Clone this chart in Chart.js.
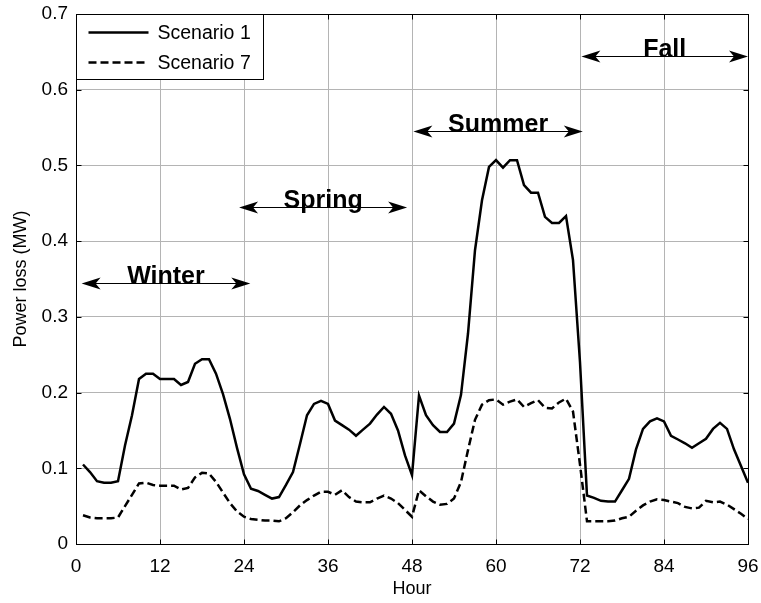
<!DOCTYPE html>
<html>
<head>
<meta charset="utf-8">
<script src="https://cdn.jsdelivr.net/npm/chart.js@4.4.1/dist/chart.umd.min.js"></script>
<style>
  html, body { margin: 0; padding: 0; background: #fff; }
</style>
</head>
<body>
<canvas id="chart" width="761" height="603"></canvas>
<script>
// hourly power loss over four representative days (one per season)
const hours = [
  1, 2, 3, 4, 5, 6, 7, 8, 9, 10, 11, 12, 13, 14, 15, 16, 17, 18, 19, 20, 21, 22, 23, 24,
  25, 26, 27, 28, 29, 30, 31, 32, 33, 34, 35, 36, 37, 38, 39, 40, 41, 42, 43, 44, 45, 46, 47, 48,
  49, 50, 51, 52, 53, 54, 55, 56, 57, 58, 59, 60, 61, 62, 63, 64, 65, 66, 67, 68, 69, 70, 71, 72,
  73, 74, 75, 76, 77, 78, 79, 80, 81, 82, 83, 84, 85, 86, 87, 88, 89, 90, 91, 92, 93, 94, 95, 96
];

const scenario1 = [
  0.105, 0.095, 0.083, 0.081, 0.081, 0.083, 0.130, 0.170, 0.218, 0.225, 0.225, 0.218,
  0.218, 0.218, 0.210, 0.214, 0.238, 0.244, 0.244, 0.225, 0.198, 0.165, 0.127, 0.092,
  0.073, 0.070, 0.065, 0.060, 0.062, 0.078, 0.095, 0.132, 0.170, 0.185, 0.189, 0.185,
  0.163, 0.157, 0.151, 0.143, 0.151, 0.159, 0.171, 0.181, 0.172, 0.150, 0.117, 0.091,
  0.196, 0.170, 0.157, 0.148, 0.148, 0.159, 0.197, 0.278, 0.388, 0.454, 0.498, 0.507,
  0.497, 0.507, 0.507, 0.474, 0.464, 0.464, 0.432, 0.424, 0.424, 0.433, 0.375, 0.240,
  0.064, 0.061, 0.057, 0.056, 0.056, 0.071, 0.086, 0.125, 0.152, 0.162, 0.166, 0.162,
  0.143, 0.138, 0.133, 0.127, 0.133, 0.139, 0.152, 0.160, 0.152, 0.125, 0.103, 0.081
];

const scenario7 = [
  0.038, 0.035, 0.034, 0.034, 0.034, 0.035, 0.050, 0.065, 0.080, 0.081, 0.078, 0.077,
  0.077, 0.077, 0.072, 0.074, 0.088, 0.094, 0.093, 0.082, 0.068, 0.054, 0.043, 0.036,
  0.033, 0.032, 0.031, 0.031, 0.030, 0.034, 0.042, 0.051, 0.058, 0.064, 0.069, 0.069,
  0.065, 0.071, 0.062, 0.056, 0.055, 0.055, 0.060, 0.064, 0.060, 0.054, 0.045, 0.036,
  0.071, 0.063, 0.056, 0.052, 0.053, 0.060, 0.082, 0.124, 0.164, 0.184, 0.190, 0.191,
  0.184, 0.188, 0.191, 0.181, 0.186, 0.190, 0.180, 0.179, 0.187, 0.192, 0.175, 0.105,
  0.030, 0.030, 0.030, 0.030, 0.031, 0.034, 0.036, 0.044, 0.051, 0.056, 0.059, 0.058,
  0.056, 0.054, 0.049, 0.047, 0.048, 0.057, 0.055, 0.056, 0.052, 0.046, 0.040, 0.033
];

const xTicks = [0, 12, 24, 36, 48, 60, 72, 84, 96];
const yTicks = [0, 0.1, 0.2, 0.3, 0.4, 0.5, 0.6, 0.7];

// season spans: double arrows with a bold caption on top
const seasons = ['Winter', 'Spring', 'Summer', 'Fall'];
const seasonFrom = [0.8, 23.3, 48.2, 72.2];
const seasonTo = [24.9, 47.3, 72.4, 96];
const seasonLevel = [0.345, 0.445, 0.545, 0.645];

const FONT = "'Liberation Sans', Arial, Helvetica, sans-serif";

function toPoints(ys) {
  return hours.map((h, i) => ({ x: h, y: ys[i] }));
}

function arrowHead(ctx, x, y, dir) {
  const len = 19, half = 6, notch = 14;
  ctx.beginPath();
  ctx.moveTo(x, y);
  ctx.lineTo(x + dir * len, y - half);
  ctx.lineTo(x + dir * notch, y);
  ctx.lineTo(x + dir * len, y + half);
  ctx.closePath();
  ctx.fill();
}

// keep tick labels from pushing the plot area inwards
function noLabelPadding(s) {
  s.paddingLeft = 0;
  s.paddingRight = 0;
  s.paddingTop = 0;
  s.paddingBottom = 0;
}

const boxPlugin = {
  id: 'matlabBox',
  afterDraw(chart) {
    const ctx = chart.ctx;
    const a = chart.chartArea;
    const xs = chart.scales.x, ys = chart.scales.y;
    ctx.save();
    ctx.strokeStyle = '#000';
    ctx.lineWidth = 1;
    const L = Math.round(a.left) + 0.5, R = Math.round(a.right) + 0.5;
    const T = Math.round(a.top) + 0.5, B = Math.round(a.bottom) + 0.5;

    // inward tick marks on all four sides
    ctx.beginPath();
    xTicks.forEach(v => {
      const px = Math.round(xs.getPixelForValue(v)) + 0.5;
      ctx.moveTo(px, B); ctx.lineTo(px, B - 5);
      ctx.moveTo(px, T); ctx.lineTo(px, T + 5);
    });
    yTicks.forEach(v => {
      const py = Math.round(ys.getPixelForValue(v)) + 0.5;
      ctx.moveTo(L, py); ctx.lineTo(L + 5, py);
      ctx.moveTo(R, py); ctx.lineTo(R - 5, py);
    });
    ctx.stroke();
    ctx.strokeRect(L, T, R - L, B - T);

    // season arrows
    ctx.fillStyle = '#000';
    seasons.forEach((name, i) => {
      const x1 = xs.getPixelForValue(seasonFrom[i]);
      const x2 = xs.getPixelForValue(seasonTo[i]);
      const y = Math.round(ys.getPixelForValue(seasonLevel[i])) + 0.5;
      ctx.beginPath();
      ctx.moveTo(x1 + 10, y);
      ctx.lineTo(x2 - 10, y);
      ctx.stroke();
      arrowHead(ctx, x1, y, 1);
      arrowHead(ctx, x2, y, -1);
      ctx.font = 'bold 25px ' + FONT;
      ctx.textAlign = 'center';
      ctx.textBaseline = 'alphabetic';
      ctx.fillText(name, (x1 + x2) / 2, y + 0.5);
    });

    // legend box in the upper left corner
    const lx = Math.round(a.left) + 0.5, ly = Math.round(a.top) + 0.5;
    const lw = 187, lh = 65;
    ctx.fillStyle = '#fff';
    ctx.fillRect(lx, ly, lw, lh);
    ctx.strokeRect(lx, ly, lw, lh);
    ctx.font = '19.5px ' + FONT;
    ctx.textAlign = 'left';
    ctx.textBaseline = 'middle';
    chart.data.datasets.forEach((ds, i) => {
      const yy = ly + 18 + i * 30;
      ctx.save();
      ctx.lineWidth = ds.borderWidth;
      ctx.setLineDash(ds.borderDash || []);
      ctx.beginPath();
      ctx.moveTo(lx + 12, yy);
      ctx.lineTo(lx + 72, yy);
      ctx.stroke();
      ctx.restore();
      ctx.fillStyle = '#000';
      ctx.fillText(ds.label, lx + 81, yy + 1);
    });
    ctx.restore();
  }
};

new Chart(document.getElementById('chart'), {
  type: 'line',
  data: {
    datasets: [
      {
        label: 'Scenario 1',
        data: toPoints(scenario1),
        borderColor: '#000',
        borderWidth: 2.5,
        pointRadius: 0,
        tension: 0,
        fill: false
      },
      {
        label: 'Scenario 7',
        data: toPoints(scenario7),
        borderColor: '#000',
        borderWidth: 2.5,
        borderDash: [8, 4],
        pointRadius: 0,
        tension: 0,
        fill: false
      }
    ]
  },
  options: {
    responsive: false,
    animation: false,
    layout: { padding: { left: 0, right: 13, top: 14, bottom: 0 } },
    plugins: {
      legend: { display: false },
      tooltip: { enabled: false }
    },
    scales: {
      x: {
        type: 'linear',
        min: 0,
        max: 96,
        afterBuildTicks: s => { s.ticks = xTicks.map(v => ({ value: v })); },
        afterFit: s => { s.height = 59; noLabelPadding(s); },
        grid: { color: '#b4b4b4', lineWidth: 1, drawTicks: false },
        border: { display: false },
        ticks: { color: '#000', padding: 11, maxRotation: 0, font: { family: FONT, size: 19 } },
        title: {
          display: true,
          text: 'Hour',
          color: '#000',
          padding: { top: 0, bottom: 3 },
          font: { family: FONT, size: 18 }
        }
      },
      y: {
        min: 0,
        max: 0.7,
        afterBuildTicks: s => { s.ticks = yTicks.map(v => ({ value: v })); },
        afterFit: s => { s.width = 76; noLabelPadding(s); },
        grid: { color: '#b4b4b4', lineWidth: 1, drawTicks: false },
        border: { display: false },
        ticks: {
          color: '#000',
          padding: 8,
          font: { family: FONT, size: 19 },
          callback: v => String(Math.round(v * 10) / 10)
        },
        title: {
          display: true,
          text: 'Power loss (MW)',
          color: '#000',
          padding: { top: 10, bottom: 0 },
          font: { family: FONT, size: 18 }
        }
      }
    }
  },
  plugins: [boxPlugin]
});
</script>
</body>
</html>
